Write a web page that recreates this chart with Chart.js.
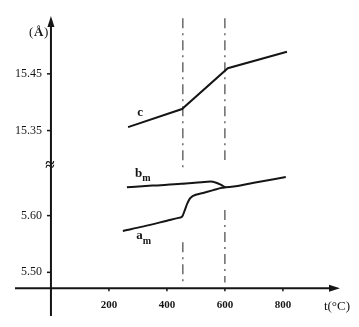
<!DOCTYPE html>
<html>
<head>
<meta charset="utf-8">
<title>Lattice parameters vs temperature</title>
<script src="https://cdn.jsdelivr.net/npm/chart.js@4.4.1/dist/chart.umd.min.js"></script>
<style>
  html, body { margin: 0; padding: 0; background: #fff; }
  #wrap { width: 359px; height: 327px; }
</style>
</head>
<body>
<div id="wrap"><canvas id="latticeChart"></canvas></div>
<script>
// Lattice parameters (Å) against temperature (°C)
const C_TEMPS = [266, 452, 610, 814];
const C_VALUES = [15.356, 15.388, 15.460, 15.489];

const B_TEMPS = [262, 350, 450, 520, 550, 570, 588, 603, 700, 810];
const B_VALUES = [5.650, 5.653, 5.656, 5.659, 5.660, 5.658, 5.654, 5.650, 5.658, 5.668];

const A_TEMPS = [248, 320, 400, 440, 452, 462, 470, 479, 490, 525, 560, 590, 603];
const A_VALUES = [5.573, 5.581, 5.591, 5.596, 5.598, 5.610, 5.621, 5.630, 5.635, 5.640, 5.645, 5.649, 5.650];

// transition temperatures (dash-dot guides)
const PHASE_TEMPS = [455, 600];

// axis ticks
const X_TICKS = [200, 400, 600, 800];
const Y_TICKS_LOW = [5.50, 5.60];
const Y_TICKS_HIGH = [15.35, 15.45];

// c sits above the axis break, so it is drawn shifted down by this amount
const C_SHIFT = 9.6;

const INK = "#151515";
const SERIF = "'Liberation Serif', 'DejaVu Serif', serif";

// plot window (in plotted units)
const X_MIN = -124, X_MAX = 997;
const Y_MIN = 5.423, Y_MAX = 5.952;
const T_AXIS_AT = 5.472;   // where the temperature axis crosses
const BREAK_AT = 5.689;    // axis break mark

function toPoints(temps, values, shift) {
  return temps.map((t, i) => ({ x: t, y: values[i] - (shift || 0) }));
}

// dash-dot guides, broken where they cross the a/b curves
const guideGaps = [[5.677, 5.553], [5.698, 5.610]];
const guideSets = PHASE_TEMPS.map((t, i) => ({
  label: "T" + (i + 1),
  data: [
    { x: t, y: Y_MAX - 0.004 },
    { x: t, y: guideGaps[i][0] },
    { x: t, y: null },
    { x: t, y: guideGaps[i][1] },
    { x: t, y: T_AXIS_AT + 0.01 }
  ],
  borderColor: "#333",
  borderWidth: 1.1,
  borderDash: [10, 5, 2, 5],
  pointRadius: 0,
  spanGaps: false,
  tension: 0
}));

const curveStyle = {
  borderColor: INK,
  borderWidth: 2,
  pointRadius: 0,
  fill: false
};

// axes, ticks and text drawn from the scales
const axesPlugin = {
  id: "axesPlugin",
  afterDatasetsDraw(chart) {
    const { ctx, chartArea: area } = chart;
    const xs = chart.scales.x, ys = chart.scales.y;
    const x0 = xs.getPixelForValue(0);
    const yAx = ys.getPixelForValue(T_AXIS_AT);

    ctx.save();
    ctx.strokeStyle = INK;
    ctx.fillStyle = INK;
    ctx.lineWidth = 2;

    // temperature axis with arrow
    ctx.beginPath();
    ctx.moveTo(area.left, yAx);
    ctx.lineTo(area.right - 6, yAx);
    ctx.stroke();
    ctx.beginPath();
    ctx.moveTo(area.right, yAx);
    ctx.lineTo(area.right - 11, yAx - 3.5);
    ctx.lineTo(area.right - 11, yAx + 3.5);
    ctx.closePath();
    ctx.fill();

    // lattice axis with arrow
    ctx.beginPath();
    ctx.moveTo(x0, area.bottom);
    ctx.lineTo(x0, area.top + 6);
    ctx.stroke();
    ctx.beginPath();
    ctx.moveTo(x0, area.top);
    ctx.lineTo(x0 - 3.5, area.top + 11);
    ctx.lineTo(x0 + 3.5, area.top + 11);
    ctx.closePath();
    ctx.fill();

    // x ticks
    ctx.lineWidth = 1.5;
    ctx.font = "bold 11px " + SERIF;
    ctx.textAlign = "center";
    ctx.textBaseline = "middle";
    X_TICKS.forEach((t) => {
      const px = xs.getPixelForValue(t);
      ctx.beginPath();
      ctx.moveTo(px, yAx);
      ctx.lineTo(px, yAx + 3);
      ctx.stroke();
      ctx.fillText(String(t), px, yAx + 17);
    });

    // y ticks (lower block as is, upper block shifted by the break)
    const yTicks = Y_TICKS_LOW.map((v) => ({ v: v, label: v.toFixed(2) }))
      .concat(Y_TICKS_HIGH.map((v) => ({ v: v - C_SHIFT, label: v.toFixed(2) })));
    ctx.font = "12px " + SERIF;
    ctx.textAlign = "right";
    yTicks.forEach((tk) => {
      const py = ys.getPixelForValue(tk.v);
      ctx.beginPath();
      ctx.moveTo(x0 - 4, py);
      ctx.lineTo(x0, py);
      ctx.stroke();
      ctx.fillText(tk.label, x0 - 9, py);
    });

    // axis break
    ctx.font = "bold 17px " + SERIF;
    ctx.textAlign = "center";
    ctx.fillText("\u2248", x0 - 1, ys.getPixelForValue(BREAK_AT));

    // axis titles
    ctx.textAlign = "left";
    ctx.font = "13px " + SERIF;
    ctx.fillText("(", x0 - 22, 33);
    ctx.font = "bold 13px " + SERIF;
    ctx.fillText("\u00C5", x0 - 17, 33);
    ctx.font = "13px " + SERIF;
    ctx.fillText(")", x0 - 7, 33);
    ctx.textAlign = "center";
    ctx.fillText("t(\u00B0C)", area.right - 3, yAx + 18);

    // curve labels
    const lab = (main, sub, t, v) => {
      const px = xs.getPixelForValue(t), py = ys.getPixelForValue(v);
      ctx.textAlign = "left";
      ctx.font = "bold 13px " + SERIF;
      ctx.fillText(main, px, py);
      if (sub) {
        const w = ctx.measureText(main).width;
        ctx.font = "bold 10px " + SERIF;
        ctx.fillText(sub, px + w, py + 5);
      }
    };
    lab("c", "", 298, 15.381 - C_SHIFT);
    lab("b", "m", 290, 5.674);
    lab("a", "m", 294, 5.564);

    ctx.restore();
  }
};

new Chart(document.getElementById("latticeChart"), {
  type: "line",
  data: {
    datasets: [
      Object.assign({ label: "c", data: toPoints(C_TEMPS, C_VALUES, C_SHIFT), tension: 0 }, curveStyle),
      Object.assign({ label: "bm", data: toPoints(B_TEMPS, B_VALUES), cubicInterpolationMode: "monotone" }, curveStyle),
      Object.assign({ label: "am", data: toPoints(A_TEMPS, A_VALUES), cubicInterpolationMode: "monotone" }, curveStyle)
    ].concat(guideSets)
  },
  options: {
    responsive: true,
    maintainAspectRatio: false,
    animation: false,
    layout: { padding: { left: 15, right: 19, top: 16, bottom: 11 } },
    plugins: {
      legend: { display: false },
      tooltip: { enabled: false }
    },
    scales: {
      x: { type: "linear", min: X_MIN, max: X_MAX, display: false },
      y: { type: "linear", min: Y_MIN, max: Y_MAX, display: false }
    }
  },
  plugins: [axesPlugin]
});
</script>
</body>
</html>
